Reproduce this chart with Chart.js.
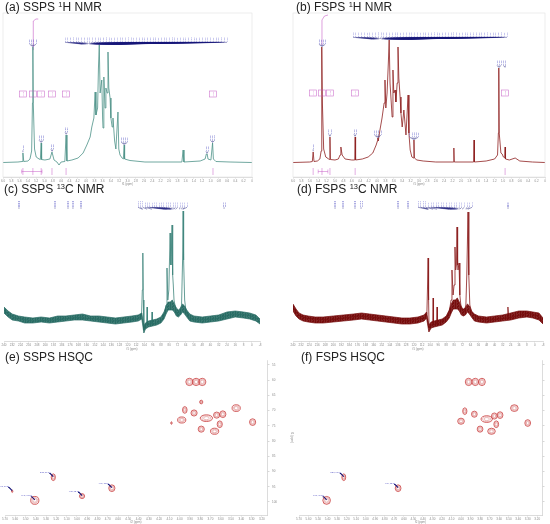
<!DOCTYPE html>
<html><head><meta charset="utf-8">
<script src="https://cdn.jsdelivr.net/npm/chart.js@4.4.1/dist/chart.umd.min.js"></script>
<style>
body{margin:0;background:#fff;}
#fig{position:relative;width:550px;height:524px;overflow:hidden;font-family:"Liberation Sans",Arial,sans-serif;}
.ttl{position:absolute;font-size:12px;color:#222;white-space:nowrap;line-height:1;}
.ttl sup{font-size:62%;vertical-align:0;position:relative;top:-0.5em;}
canvas{position:absolute;}
</style></head>
<body><div id="fig">
<canvas id="ca" width="275" height="174" style="left:0;top:12px"></canvas>
<canvas id="cb" width="275" height="174" style="left:275px;top:12px"></canvas>
<canvas id="cc" width="275" height="166" style="left:0;top:185px"></canvas>
<canvas id="cd" width="275" height="166" style="left:275px;top:185px"></canvas>
<canvas id="ce" width="300" height="169" style="left:0;top:355px"></canvas>
<canvas id="cf" width="275" height="169" style="left:275px;top:355px"></canvas>
<div class="ttl" style="left:5px;top:1px">(a) SSPS <sup>1</sup>H NMR</div>
<div class="ttl" style="left:296px;top:1px">(b) FSPS <sup>1</sup>H NMR</div>
<div class="ttl" style="left:4px;top:183px">(c) SSPS <sup>13</sup>C NMR</div>
<div class="ttl" style="left:297px;top:183px">(d) FSPS <sup>13</sup>C NMR</div>
<div class="ttl" style="left:5px;top:351px">(e) SSPS HSQC</div>
<div class="ttl" style="left:301px;top:351px">(f) FSPS HSQC</div>
</div>
<script>
// ================= DATA =================
// axis ranges / tick steps
const h1Axis   = {min:0, max:6, step:0.2};
const c13Axis  = {min:-8, max:240, step:8};
const hsqcXAxis = {min:3.15, max:5.7, step:0.1};
const hsqcYAxis = {min:53.4, max:104.3, step:5};

// (a) SSPS 1H spectrum
const ppmA = [6.00,5.64,5.54,5.52,5.50,5.40,5.35,5.31,5.29,5.28,5.27,5.24,5.20,5.13,5.10,5.08,5.07,4.99,4.87,4.82,4.77,4.70,4.65,4.60,4.51,4.48,4.46,4.34,4.19,4.07,3.98,3.90,3.86,3.81,3.78,3.76,3.72,3.70,3.68,3.66,3.62,3.60,3.59,3.57,3.54,3.52,3.49,3.47,3.45,3.42,3.40,3.37,3.35,3.31,3.28,3.23,3.21,3.18,3.13,3.10,3.08,3.07,2.94,2.58,1.69,1.66,1.64,1.25,1.13,1.10,1.08,1.06,0.99,0.95,0.93,0.87,0.53,0.00];
const intA = [0.5,1,1.5,10,1.5,2,4,12,60,116,60,14,6,4,3.5,20,3.5,3,4,11,3,1,-2,1,1.5,28,2,3,5,10,18,26,36,45,71,48,55,95,118,70,83,45,35,86,55,75,70,111,75,65,45,36,45,22,14,51,14,8,5,4,18,4,2.5,1,1,13,1,2,4,9,9,4,3,20,4,1.5,1,0.5];
const integralPpmA = [5.272,5.27,5.205,5.15];
const integralIntA = [113,142,144,144];
const peakGroupsA = [[5.52],[5.29,5.285,5.28,5.275],[5.085,5.08,5.075],[4.82,4.815],[4.48,4.475],[3.085,3.08,3.075,3.07],[1.085,1.08],[0.955,0.95,0.945]];
const multipletA = [4.10,4.08,4.06,4.04,4.02,4.00,3.98,3.96,3.95,3.93,3.92,3.90,3.89,3.87,3.86,3.84,3.83,3.81,3.80,3.79,3.78,3.76,3.75,3.74,3.72,3.71,3.70,3.69,3.68,3.67,3.66,3.65,3.63,3.62,3.61,3.59,3.58,3.57,3.55,3.54,3.53,3.51,3.50,3.49,3.47,3.46,3.44,3.43,3.41,3.40,3.38,3.37,3.35,3.33,3.31,3.29,3.27,3.24,3.22,3.19];
const integPpmA = [5.52,5.28,5.08,4.82,4.48,0.94];
const integValA = ['0.06','1.00','0.10','0.05','0.09','0.25'];
const integRangeA = [[5.55,5.06]];

// (b) FSPS 1H spectrum
const ppmB = [6.00,5.60,5.54,5.52,5.50,5.42,5.36,5.33,5.32,5.31,5.30,5.27,5.22,5.15,5.13,5.12,5.11,5.00,4.92,4.88,4.86,4.83,4.76,4.60,4.53,4.52,4.51,4.35,4.21,4.10,4.02,3.99,3.98,3.97,3.93,3.88,3.83,3.81,3.79,3.76,3.73,3.71,3.69,3.66,3.64,3.62,3.60,3.57,3.55,3.52,3.50,3.48,3.45,3.43,3.40,3.36,3.31,3.26,3.24,3.21,3.17,3.13,3.12,3.11,3.05,2.90,2.60,2.18,2.17,2.16,1.70,1.69,1.68,1.40,1.20,1.13,1.11,1.10,1.09,1.05,1.02,0.99,0.96,0.95,0.94,0.85,0.71,0.60,0.30,0.00];
const intB = [0.5,1,1.5,11,1.5,2,4,12,60,116,60,14,6,4,3.5,26,3.5,3,4,8,16,8,4,3,3,26,3,4,6,10,18,22,25,22,33,45,60,83,55,70,100,123,80,60,46,93,70,73,61,80,116,85,66,50,36,53,28,68,30,13,6,5,23,5,3,2,1,1,15,1,1,23,1,2,4,8,30,95,30,10,9,6,5,16,4,3,5,2,1,0.5];
const integralPpmB = [5.317,5.31,5.25,5.167];
const integralIntB = [118,143,147,148];
const peakGroupsB = [[5.52],[5.315,5.31,5.305,5.30],[5.125,5.12],[4.525,4.52],[3.99,3.985,3.98,3.975],[3.13,3.125,3.12,3.115,3.11],[1.105,1.10,1.095,0.955,0.95]];
const multipletB = [4.12,4.09,4.07,4.05,4.03,4.01,3.99,3.97,3.95,3.94,3.92,3.90,3.88,3.87,3.85,3.83,3.82,3.81,3.79,3.78,3.76,3.75,3.73,3.72,3.71,3.70,3.68,3.67,3.65,3.64,3.62,3.61,3.60,3.58,3.57,3.55,3.54,3.52,3.51,3.50,3.48,3.47,3.45,3.43,3.42,3.40,3.38,3.36,3.34,3.31,3.29,3.27,3.26,3.24,3.21,3.18];
const integPpmB = [5.52,5.31,5.12,4.52,0.95];
const integValB = ['0.07','1.00','0.12','0.10','0.86'];
const integRangeB = [[5.40,5.17]];

// (c) SSPS 13C spectrum
const ppmC = [240,236.1,229.3,211.9,190.6,169.3,151.8,137.3,117.9,109.2,106.8,106.0,105.5,105.0,104.5,103.4,101.8,101.4,101.0,97.0,96.6,96.2,90.8,86.9,84.5,83.0,82.1,81.3,80.3,79.1,78.3,77.8,77.2,76.6,76.0,75.3,73.8,72.4,69.9,68.0,67.0,66.5,66.0,65.0,63.6,60.7,54.9,35.5,18.1,3.6,-4.2,-8];
const intC = [15,11,7,4,5,7.5,6,4,5,6.5,9,35,72,25,-5,-1,1,18,1,1,13,1,2,5,11,20,57,25,35,92,60,75,100,50,40,25,17,10,11,20,65,114,65,25,13,7,5,6,11,10,7,3];
const noisePpmC = [240,236,232,226,220,212,204,196,188,180,172,164,156,148,140,132,124,116,110,106.5,104.5,103,100,96,92,88,85,83,81,79,77,75,73,71,69,67,65,63,60,56,48,40,32,24,16,8,2,-4,-8];
const noiseHiC = [18,14,11,9,8,7,8,7,9,9,10,11,9,9,8,7,8,9,10,12,-1,2,4,5,6,8,13,19,23,23,25,21,17,15,17,21,19,15,11,9,8,9,10,13,14,13,12,10,6];
const noiseLoC = [12,8,5,4,2,2,3,2,3,4,5,5,4,3,2,1,2,3,4,6,-8,-4,-2,-1,0,2,6,11,15,15,15,13,9,8,10,13,11,8,4,3,2,3,4,6,8,7,6,4,1];
const pickedC = [225.5,190.6,178.0,173.2,165.4,26.8];
const multipletC = [106.0,105.5,101.4,96.6,84.5,83.0,82.1,81.3,80.3,79.1,78.6,78.3,77.8,77.2,76.6,76.0,75.3,73.8,69.9,68.0,67.0,66.5];

// (d) FSPS 13C spectrum
const ppmD = [240,237,233,225.1,203.3,175.5,153.7,125.9,109,107.2,106.5,106.0,105.5,105.0,103,101.4,101,100.6,97.5,97.1,96.7,94.2,88.2,85,83.2,82.3,81.2,80.2,79.3,78.6,77.9,77.3,76.7,76.3,75.3,74.5,73.5,72.3,70.4,68.5,67.6,66.4,65.6,64.6,62.4,56.5,44.6,27.7,26.8,26.0,6.9,-3,-8];
const intD = [18,13,9,6.5,5,9,7,4.5,7,11,40,67,25,-3,0,0,27,0,1,18,1,3,7,13,25,55,30,40,78,55,60,98,60,55,62,30,20,15,13,20,50,113,50,20,12,7,5,7,18,7,12,9,3];
const noisePpmD = [240,237,234,230,225,218,210,200,190,180,172,164,156,148,140,132,124,116,110,107.5,105.2,103,100,96,92,88,85,83,81,79,77,75,73,71,69,67,65,63,60,56,48,40,32,24,16,8,2,-4,-8];
const noiseHiD = [21,16,12,10,9,8,8,9,10,11,12,11,10,9,8,7,7,8,10,13,0,3,4,5,6,9,15,21,25,25,27,23,18,16,17,21,19,14,11,9,8,9,10,12,14,14,13,12,7];
const noiseLoD = [14,9,6,4,3,2,2,3,4,5,6,5,4,3,2,1,1,2,4,7,-7,-3,-2,-1,0,3,7,12,16,16,16,14,10,9,10,13,11,8,4,3,2,3,4,5,7,8,7,5,1];
const pickedD = [198.3,190.4,178.5,172.5,135.8,125.9,26.7];
const multipletD = [106.5,106.0,105.5,101.0,97.1,85.0,83.2,82.3,81.2,80.2,79.3,78.6,77.9,77.3,76.7,76.3,75.3,74.5,72.3,68.5,67.6,66.4];

// (e) SSPS HSQC cross peaks (1H ppm, 13C ppm, half-widths in ppm)
const hsqcE_H  = [3.905,3.84,3.78,3.79,3.95,3.86,3.74,3.64,3.58,3.45,3.98,3.61,3.29,3.79,3.66,4.08,5.23,4.66,5.41,4.95,5.63];
const hsqcE_C  = [60.6,60.6,60.6,67.2,69.8,70.8,72.5,71.5,71.2,69.2,73.1,74.5,73.8,76.1,76.8,74.1,91.9,95.5,99.5,98.1,96.5];
const hsqcE_wH = [0.035,0.035,0.035,0.015,0.022,0.03,0.06,0.03,0.03,0.04,0.04,0.025,0.03,0.03,0.04,0.006,0.02,0.03,0.04,0.025,0.006];
const hsqcE_wC = [1.2,1.2,1.2,0.6,1.1,1.0,1.1,1.0,1.1,1.1,1.0,1.1,1.1,1.0,1.0,0.4,1.1,1.1,1.3,0.8,0.4];
const hsqcE_labelled = [16,17,18,19,20];

// (f) FSPS HSQC cross peaks
const hsqcF_H  = [3.92,3.85,3.78,3.96,3.86,3.73,3.65,3.59,3.44,4.00,3.63,3.30,3.80,3.68,5.23,4.66,5.41];
const hsqcF_C  = [60.6,60.6,60.6,70.2,71.2,72.8,71.8,71.5,69.2,73.5,74.5,74.1,76.1,76.8,91.9,95.5,99.5];
const hsqcF_wH = [0.035,0.035,0.035,0.022,0.03,0.06,0.03,0.03,0.04,0.035,0.025,0.03,0.03,0.04,0.02,0.03,0.04];
const hsqcF_wC = [1.2,1.2,1.2,1.1,1.0,1.1,1.0,1.1,1.1,1.0,1.1,1.1,1.0,1.0,1.1,1.1,1.3];
const hsqcF_labelled = [14,15,16];

// ================= DRAWING =================
const FONT = '"Liberation Sans", Arial, sans-serif';
const BLUE = 'rgb(70,70,190)', BLUE2 = 'rgba(95,95,205,0.85)', NAVY = 'rgb(22,22,120)', PINK = 'rgba(195,85,195,0.8)';
const pts = (xs, ys) => xs.map((x, i) => ({x: x, y: ys[i]}));

function vtext(ctx, s, x, yb, size, color) {
  ctx.save(); ctx.translate(x, yb); ctx.rotate(-Math.PI / 2);
  ctx.font = size + 'px ' + FONT; ctx.fillStyle = color;
  ctx.textAlign = 'left'; ctx.textBaseline = 'middle';
  ctx.fillText(s, 0, 0); ctx.restore();
}
function peakTop(px, py, list, tol) {
  let m = -1e9;
  px.forEach((p, i) => { if (list.some(q => Math.abs(q - p) <= tol)) m = Math.max(m, py[i]); });
  return m;
}
function drawBand(ctx, xs, vals, ppmL, ppmR, yb, targetY, digits) {
  const xl = xs.getPixelForValue(ppmL), xr = xs.getPixelForValue(ppmR);
  const sp = (xr - xl) / (vals.length - 1);
  vals.forEach((p, i) => vtext(ctx, p.toFixed(digits), xl + i * sp, yb, 2.4, BLUE2));
  ctx.strokeStyle = NAVY; ctx.lineWidth = 0.45;
  vals.forEach((p, i) => {
    ctx.beginPath(); ctx.moveTo(xl + i * sp, yb + 0.3);
    ctx.lineTo(xs.getPixelForValue(p), targetY); ctx.stroke();
  });
}

function h1Plugin(cfg) {
  return { id: 'h1annot', afterDatasetsDraw(chart) {
    const ctx = chart.ctx, xs = chart.scales.x, ys = chart.scales.y, ca = chart.chartArea;
    ctx.save();
    ctx.strokeStyle = '#e2e2e2'; ctx.lineWidth = 0.6;
    ctx.strokeRect(ca.left, ca.top, ca.right - ca.left, ca.bottom - ca.top);
    cfg.groups.forEach(g => {
      const top = peakTop(cfg.ppm, cfg.int, g, 0.02);
      const yTop = ys.getPixelForValue(top);
      const tx = g.map(p => xs.getPixelForValue(p));
      const cx = tx.reduce((a, b) => a + b, 0) / tx.length;
      const n = g.length, sp = 2.1, yb = yTop - 3;
      ctx.strokeStyle = NAVY; ctx.lineWidth = 0.45;
      g.forEach((p, i) => {
        const lx = cx + (i - (n - 1) / 2) * sp;
        vtext(ctx, p.toFixed(2), lx, yb, 2.4, BLUE);
        ctx.beginPath(); ctx.moveTo(lx, yb + 0.3); ctx.lineTo(tx[i], yTop - 0.7); ctx.stroke();
      });
    });
    const mTop = peakTop(cfg.ppm, cfg.int, cfg.band, 0.001);
    const yT = ys.getPixelForValue(Math.max(mTop, cfg.bandMin));
    drawBand(ctx, xs, cfg.band, cfg.bandL, cfg.bandR, yT - 3, yT - 1, 2);
    const yBox = ys.getPixelForValue(cfg.boxInt);
    ctx.lineWidth = 0.6; ctx.strokeStyle = PINK; ctx.fillStyle = PINK;
    cfg.integ.forEach((p, i) => {
      const x = xs.getPixelForValue(p);
      ctx.strokeRect(x - 3.5, yBox - 3, 7, 6);
      vtext(ctx, cfg.integVal[i], x + 0.2, yBox + 2.3, 2.3, PINK);
      ctx.beginPath(); ctx.moveTo(x, ys.getPixelForValue(-5)); ctx.lineTo(x, ys.getPixelForValue(-12)); ctx.stroke();
    });
    cfg.ranges.forEach(r => {
      const y = ys.getPixelForValue(-8.5);
      const x1 = xs.getPixelForValue(r[0]), x2 = xs.getPixelForValue(r[1]);
      ctx.beginPath(); ctx.moveTo(x1, y); ctx.lineTo(x2, y);
      ctx.moveTo(x1, y - 2); ctx.lineTo(x1, y + 2); ctx.moveTo(x2, y - 2); ctx.lineTo(x2, y + 2); ctx.stroke();
    });
    ctx.restore();
  }};
}

function c13Plugin(cfg) {
  return { id: 'c13annot', afterDatasetsDraw(chart) {
    const ctx = chart.ctx, xs = chart.scales.x, ys = chart.scales.y;
    ctx.save();
    const yb = ys.getPixelForValue(cfg.labelInt);
    ctx.strokeStyle = NAVY; ctx.lineWidth = 0.45;
    cfg.picked.forEach(p => {
      const x = xs.getPixelForValue(p);
      vtext(ctx, p.toFixed(1), x - 0.6, yb, 2.4, BLUE);
      vtext(ctx, p.toFixed(1), x + 0.8, yb, 2.4, BLUE);
      ctx.beginPath(); ctx.moveTo(x, yb + 0.3); ctx.lineTo(x, yb + 1.8); ctx.stroke();
    });
    drawBand(ctx, xs, cfg.band, cfg.bandL, cfg.bandR, yb, yb + 2.2, 1);
    ctx.restore();
  }};
}

function hsqcPlugin(cfg) {
  return { id: 'hsqc', afterDatasetsDraw(chart) {
    const ctx = chart.ctx, xs = chart.scales.x, ys = chart.scales.y;
    const meta = chart.getDatasetMeta(0);
    ctx.save();
    meta.data.forEach((el, i) => {
      const cx = el.x, cy = el.y;
      const rx = Math.abs(xs.getPixelForValue(cfg.H[i] + cfg.wH[i]) - cx);
      const ry = Math.abs(ys.getPixelForValue(cfg.C[i] + cfg.wC[i]) - cy);
      [1, 0.72, 0.46].forEach((f, k) => {
        ctx.beginPath(); ctx.ellipse(cx, cy, Math.max(rx * f, 0.4), Math.max(ry * f, 0.4), 0, 0, 2 * Math.PI);
        ctx.strokeStyle = k === 0 ? 'rgba(200,60,60,0.9)' : 'rgba(215,120,120,0.8)';
        ctx.lineWidth = k === 0 ? 0.9 : 0.6; ctx.stroke();
      });
    });
    cfg.labelled.forEach(i => {
      const el = meta.data[i];
      const lx = el.x - 3, ly = el.y - 4;
      ctx.font = '2.1px ' + FONT; ctx.fillStyle = BLUE; ctx.textAlign = 'right'; ctx.textBaseline = 'bottom';
      ctx.fillText(cfg.H[i].toFixed(2) + ', ' + cfg.C[i].toFixed(2), lx, ly);
      ctx.strokeStyle = NAVY; ctx.lineWidth = 1.1;
      ctx.beginPath(); ctx.moveTo(lx - 1, ly + 0.3); ctx.lineTo(lx, ly + 0.3); ctx.lineTo(el.x, el.y - 0.5); ctx.stroke();
    });
    ctx.restore();
  }};
}

function xAxis(range, h, title) {
  return {
    type: 'linear', reverse: true, min: range.min, max: range.max,
    ticks: {stepSize: range.step, autoSkip: false, maxRotation: 0, minRotation: 0, includeBounds: false,
            padding: 0.5, font: {size: 3, family: FONT}, color: '#8a8a8a'},
    grid: {display: true, drawOnChartArea: false, drawTicks: true, tickLength: 1.5, color: '#b0b0b0', lineWidth: 0.5},
    border: {display: true, color: '#c4c4c4', width: 0.6},
    title: {display: true, text: title, font: {size: 3, family: FONT}, color: '#8a8a8a', padding: 0},
    afterFit(s) { s.height = h; }
  };
}
const common = (pad) => ({
  responsive: false, animation: false, events: [],
  layout: {padding: pad},
  plugins: {legend: {display: false}, tooltip: {enabled: false}},
  elements: {point: {radius: 0}, line: {tension: 0}}
});

function h1Chart(id, ppm, inten, intP, intI, color, pad, cfg) {
  const o = common(pad);
  o.scales = {x: xAxis(h1Axis, 9, 'f1 (ppm)'), y: {display: false, min: -14, max: 150}};
  new Chart(document.getElementById(id), {
    type: 'scatter',
    data: {datasets: [
      {data: pts(ppm, inten), showLine: true, borderColor: color, borderWidth: 0.8, pointRadius: 0},
      {data: pts(intP, intI), showLine: true, borderColor: PINK, borderWidth: 0.7, pointRadius: 0}
    ]},
    options: o,
    plugins: [h1Plugin(Object.assign({ppm: ppm, int: inten}, cfg))]
  });
}

function makePattern(id, rgb) {
  const c = document.createElement('canvas'); c.width = 5; c.height = 3;
  const g = c.getContext('2d');
  g.fillStyle = 'rgba(' + rgb + ',0.9)'; g.fillRect(0, 0, 5, 3);
  g.fillStyle = 'rgba(' + rgb + ',1)'; g.fillRect(0, 0, 1, 3); g.fillRect(2, 1, 1, 2); g.fillRect(3, 0, 1, 2);
  return document.getElementById(id).getContext('2d').createPattern(c, 'repeat');
}

function c13Chart(id, ppm, inten, nP, nHi, nLo, lineColor, rgb, pad, cfg) {
  const o = common(pad);
  o.scales = {x: xAxis(c13Axis, 10, 'f1 (ppm)'), y: {display: false, min: -16, max: 128}};
  const pat = makePattern(id, rgb);
  new Chart(document.getElementById(id), {
    type: 'scatter',
    data: {datasets: [
      {data: pts(nP, nHi), showLine: true, borderColor: 'rgb(' + rgb + ')', borderWidth: 0.7, pointRadius: 0, fill: false},
      {data: pts(nP, nLo), showLine: true, borderColor: 'rgb(' + rgb + ')', borderWidth: 0.7, pointRadius: 0, fill: '-1', backgroundColor: pat},
      {data: pts(ppm, inten), showLine: true, borderColor: lineColor, borderWidth: 0.8, pointRadius: 0}
    ]},
    options: o,
    plugins: [c13Plugin(cfg)]
  });
}

function hsqcChart(id, H, C, wH, wC, lab, pad, yW, showY) {
  const o = common(pad);
  o.scales = {
    x: xAxis(hsqcXAxis, 9, 'f2 (ppm)'),
    y: {type: 'linear', position: 'right', reverse: true, min: hsqcYAxis.min, max: hsqcYAxis.max,
        ticks: {display: showY, stepSize: hsqcYAxis.step, includeBounds: false, padding: 2.5, font: {size: 3, family: FONT}, color: '#8a8a8a'},
        grid: {display: true, drawOnChartArea: false, drawTicks: true, tickLength: 2.5, color: '#b0b0b0', lineWidth: 0.5},
        border: {display: true, color: '#c4c4c4', width: 0.6},
        title: {display: showY, text: 'f1 (ppm)', font: {size: 3, family: FONT}, color: '#8a8a8a', padding: 0},
        afterFit(s) { s.width = yW; }}
  };
  new Chart(document.getElementById(id), {
    type: 'scatter',
    data: {datasets: [{data: pts(H, C), pointRadius: 0, showLine: false}]},
    options: o,
    plugins: [hsqcPlugin({H: H, C: C, wH: wH, wC: wC, labelled: lab})]
  });
}

h1Chart('ca', ppmA, intA, integralPpmA, integralIntA, '#4c9288', {left: 3, right: 23, top: 1, bottom: 0},
  {groups: peakGroupsA, band: multipletA, bandL: 4.506, bandR: 0.602, bandMin: 0, boxInt: 69,
   integ: integPpmA, integVal: integValA, ranges: integRangeA});
h1Chart('cb', ppmB, intB, integralPpmB, integralIntB, '#8e2020', {left: 18, right: 5, top: 1, bottom: 0},
  {groups: peakGroupsB, band: multipletB, bandL: 4.571, bandR: 0.905, bandMin: 0, boxInt: 70,
   integ: integPpmB, integVal: integValB, ranges: integRangeB});
c13Chart('cc', ppmC, intC, noisePpmC, noiseHiC, noiseLoC, '#3f857c', '40,108,100', {left: 4, right: 15, top: 12, bottom: 0},
  {labelInt: 118, picked: pickedC, band: multipletC, bandL: 110.2, bandR: 62.7});
c13Chart('cd', ppmD, intD, noisePpmD, noiseHiD, noiseLoD, '#8a1c1c', '118,12,12', {left: 18, right: 7, top: 12, bottom: 0},
  {labelInt: 118, picked: pickedD, band: multipletD, bandL: 116, bandR: 62.4});
hsqcChart('ce', hsqcE_H, hsqcE_C, hsqcE_wH, hsqcE_wC, hsqcE_labelled, {left: 5, right: 6, top: 5, bottom: 0}, 27, true);
hsqcChart('cf', hsqcF_H, hsqcF_C, hsqcF_wH, hsqcF_wC, hsqcF_labelled, {left: 24, right: 0, top: 5, bottom: 0}, 8, false);
</script>
</body></html>
